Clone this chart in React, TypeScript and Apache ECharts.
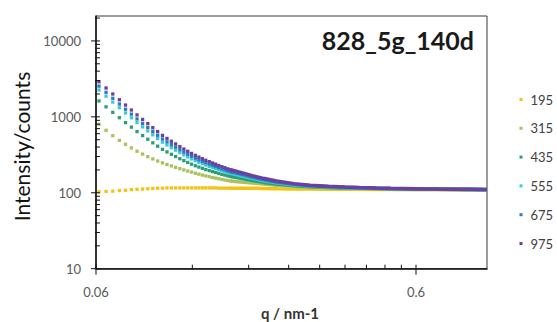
import React, { useEffect, useRef } from 'react';
import * as echarts from 'echarts';

// ---- data ----
const SERIES_NAMES = ['195', '315', '435', '555', '675', '975'];
const COLORS = ['#f2c314', '#a9c25e', '#2b9f72', '#3cc7e2', '#2a7db6', '#6b3fa3'];

// low-q region: individual visible points
const Q_LOW = [0.0613, 0.0645, 0.0677, 0.0710, 0.0742, 0.0774, 0.0806, 0.0839, 0.0871, 0.0903, 0.0935, 0.0968, 0.1000, 0.1032, 0.1064, 0.1097, 0.1129, 0.1161, 0.1193, 0.1226, 0.1258, 0.1290, 0.1322, 0.1355, 0.1387, 0.1419, 0.1451, 0.1484, 0.1516, 0.1548, 0.1580];
const I195_LOW = [103, 104, 105, 107, 108, 110, 111, 112, 113, 114, 115, 115, 116, 116, 116, 116, 116, 116, 116, 116, 116, 116, 116, 116, 116, 116, 115, 115, 115, 115, 115];
const I315_LOW = [800, 665, 565, 490, 435, 390, 353, 323, 299, 279, 262, 248, 236, 226, 216, 208, 200, 193, 187, 181, 176, 171, 167, 163, 159, 156, 153, 150, 147, 145, 143];
const I435_LOW = [1620, 1355, 1145, 975, 840, 732, 640, 567, 507, 455, 411, 373, 345, 321, 300, 281, 265, 251, 238, 227, 218, 210, 202, 196, 190, 185, 180, 175, 171, 167, 164];
const I555_LOW = [2260, 1873, 1565, 1319, 1126, 972, 842, 738, 653, 580, 518, 464, 426, 393, 364, 338, 316, 296, 279, 265, 252, 242, 232, 223, 215, 209, 202, 195, 190, 185, 180];
const I675_LOW = [2540, 2105, 1755, 1476, 1260, 1086, 938, 820, 725, 642, 572, 511, 468, 431, 399, 369, 344, 322, 303, 286, 272, 260, 249, 239, 230, 222, 214, 207, 201, 195, 190];
const I975_LOW = [2900, 2400, 2000, 1680, 1430, 1230, 1060, 925, 815, 720, 640, 570, 520, 477, 440, 406, 377, 352, 330, 311, 295, 281, 268, 257, 247, 238, 229, 221, 214, 207, 201];

// high-q region: points are so dense they merge into a band
const Q_HIGH = [0.158, 0.17, 0.185, 0.2, 0.22, 0.25, 0.28, 0.32, 0.36, 0.4, 0.45, 0.5, 0.6, 0.7, 0.8, 0.9, 1.0];
const I195_HIGH = [115, 115, 114.5, 114, 113, 112.5, 112, 111.5, 111, 111, 110.5, 110.5, 110, 110, 109.5, 109.5, 109];
const I315_HIGH = [143, 139, 134, 130, 126, 122, 119, 117, 115.5, 114.5, 113.5, 112.5, 111.5, 111, 110.5, 110, 109.5];
const I435_HIGH = [164, 155, 145, 137, 130, 124, 120, 117.5, 116, 115, 114, 113, 112, 111, 110.5, 110, 109.5];
const I555_HIGH = [180, 168, 155, 144, 135, 127, 122, 119, 117, 116, 114.5, 113.5, 112.5, 111.5, 111, 110.5, 110];
const I675_HIGH = [190, 176, 161, 149, 139, 129, 124, 120, 118, 116.5, 115, 114, 112.5, 112, 111.5, 111, 110.5];
const I975_HIGH = [201, 185, 168, 155, 143, 132, 126, 122, 119, 117, 115.5, 114.5, 113, 112, 111.5, 111, 110.5];

const LOW = [I195_LOW, I315_LOW, I435_LOW, I555_LOW, I675_LOW, I975_LOW];
const HIGH = [I195_HIGH, I315_HIGH, I435_HIGH, I555_HIGH, I675_HIGH, I975_HIGH];

// axes
const X_MIN = 0.06;
const X_MAX = 1.0;
const Y_MIN = 10;
const Y_MAX = 21300;
const X_MAJOR_TICKS = [0.06, 0.6];
const X_MINOR_TICKS = [0.12, 0.18, 0.24, 0.3, 0.36, 0.42, 0.48, 0.54];
const Y_MAJOR_TICKS = [10, 100, 1000, 10000];
const Y_MINOR_TICKS = [20, 30, 40, 50, 60, 70, 80, 90, 200, 300, 400, 500, 600, 700, 800, 900, 2000, 3000, 4000, 5000, 6000, 7000, 8000, 9000, 20000];

const TITLE = '828_5g_140d';
const Y_TITLE = 'Intensity/counts';
const X_TITLE = 'q / nm-1';

const FONT = 'Lato, "Open Sans", sans-serif';

export default function App() {
  const ref = useRef<HTMLDivElement>(null);
  useEffect(() => {
    if (!ref.current) return;
    const chart = echarts.init(ref.current, null, { renderer: 'svg' });

    const series: any[] = [];
    SERIES_NAMES.forEach((name, i) => {
      series.push({
        name,
        type: 'line',
        data: Q_HIGH.map((q, k) => [q, HIGH[i][k]]),
        showSymbol: false,
        symbol: 'none',
        lineStyle: { color: COLORS[i], width: 3.5 },
        itemStyle: { color: COLORS[i] },
        smooth: false,
        silent: true,
        z: 2 + i,
      });
      series.push({
        name,
        type: 'scatter',
        data: Q_LOW.map((q, k) => [q, LOW[i][k]]),
        symbol: 'rect',
        symbolSize: 3.3,
        itemStyle: { color: COLORS[i], opacity: 1 },
        silent: true,
        z: 2 + i,
      });
    });

    const tickData: number[][] = [
      ...X_MAJOR_TICKS.map((v) => [v, Y_MIN, 0]),
      ...X_MINOR_TICKS.map((v) => [v, Y_MIN, 1]),
      ...Y_MAJOR_TICKS.map((v) => [X_MIN, v, 2]),
      ...Y_MINOR_TICKS.map((v) => [X_MIN, v, 3]),
    ];

    series.push({
      type: 'custom',
      coordinateSystem: 'cartesian2d',
      data: tickData,
      encode: { x: 0, y: 1 },
      clip: false,
      silent: true,
      z: 20,
      renderItem: (params: any, api: any) => {
        const xv = api.value(0);
        const yv = api.value(1);
        const kind = api.value(2);
        const p = api.coord([xv, yv]);
        const ls = { stroke: '#111', lineWidth: 1 };
        const children: any[] = [];
        const labelStyle = { fill: '#595959', font: `13px ${FONT}` };
        if (kind === 0) {
          children.push({ type: 'line', shape: { x1: p[0], y1: p[1] - 4, x2: p[0], y2: p[1] + 6 }, style: ls });
          children.push({
            type: 'text',
            style: { ...labelStyle, text: String(xv), x: p[0], y: p[1] + 23, textAlign: 'center', textVerticalAlign: 'middle', align: 'center', verticalAlign: 'middle' },
          });
        } else if (kind === 1) {
          children.push({ type: 'line', shape: { x1: p[0], y1: p[1] - 4, x2: p[0], y2: p[1] }, style: ls });
        } else if (kind === 2) {
          children.push({ type: 'line', shape: { x1: p[0] - 5, y1: p[1], x2: p[0] + 4, y2: p[1] }, style: ls });
          children.push({
            type: 'text',
            style: { ...labelStyle, text: String(yv), x: p[0] - 15, y: p[1], textAlign: 'right', textVerticalAlign: 'middle', align: 'right', verticalAlign: 'middle' },
          });
        } else {
          children.push({ type: 'line', shape: { x1: p[0] - 1, y1: p[1], x2: p[0] + 4, y2: p[1] }, style: ls });
        }
        return { type: 'group', children };
      },
    });

    const option: any = {
      animation: false,
      backgroundColor: '#ffffff',
      grid: {
        left: 96,
        right: 70,
        top: 16,
        bottom: 53.3,
        show: true,
        borderColor: '#3a3a3a',
        borderWidth: 1,
        backgroundColor: 'transparent',
      },
      xAxis: {
        type: 'log',
        logBase: 10,
        min: X_MIN,
        max: X_MAX,
        axisLine: { show: true, lineStyle: { color: '#111', width: 1.5 } },
        axisTick: { show: false },
        axisLabel: { show: false },
        splitLine: { show: false },
        minorTick: { show: false },
      },
      yAxis: {
        type: 'log',
        logBase: 10,
        min: Y_MIN,
        max: Y_MAX,
        axisLine: { show: true, lineStyle: { color: '#111', width: 1.5 } },
        axisTick: { show: false },
        axisLabel: { show: false },
        splitLine: { show: false },
        minorTick: { show: false },
      },
      legend: {
        orient: 'vertical',
        left: 519.5,
        top: 91.5,
        padding: 0,
        itemWidth: 3,
        itemHeight: 3,
        itemGap: 12.8,
        selectedMode: false,
        data: SERIES_NAMES.map((n, i) => ({ name: n, icon: 'rect', itemStyle: { color: COLORS[i] } })),
        textStyle: { fontSize: 13, lineHeight: 16, color: '#404040', fontFamily: FONT, padding: [0, 0, 0, 3] },
      },
      graphic: [
        {
          type: 'text',
          x: 474,
          y: 40,
          style: { text: TITLE, font: `bold 25px ${FONT}`, fill: '#1a1a1a', textAlign: 'right', textVerticalAlign: 'middle' },
        },
        {
          type: 'text',
          x: 21,
          y: 146.5,
          rotation: Math.PI / 2,
          style: { text: Y_TITLE, font: `21px ${FONT}`, fill: '#111', textAlign: 'center', textVerticalAlign: 'middle' },
        },
        {
          type: 'text',
          x: 290,
          y: 313,
          style: { text: X_TITLE, font: `bold 15px ${FONT}`, fill: '#333', textAlign: 'center', textVerticalAlign: 'middle' },
        },
      ],
      series,
    };

    chart.setOption(option);
    return () => chart.dispose();
  }, []);

  return (
    <div
      ref={ref}
      style={{ position: 'fixed', left: 0, top: 0, width: 557, height: 322, background: '#fff' }}
    />
  );
}
